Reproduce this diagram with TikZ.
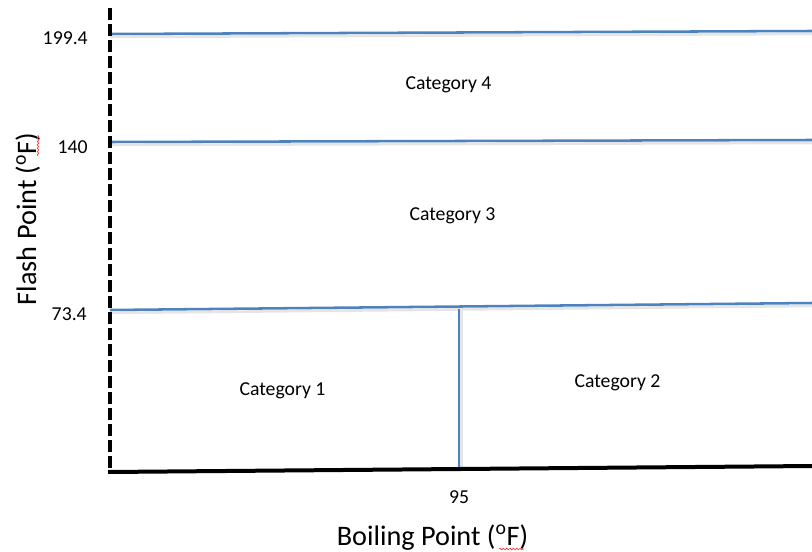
\documentclass[tikz,border=0pt]{standalone}
\usepackage{fontspec}
\setmainfont{Carlito}
\usetikzlibrary{decorations.pathmorphing}
\definecolor{lineblue}{HTML}{4F81BD}
\begin{document}
\begin{tikzpicture}[x=0.75pt,y=-0.75pt,
 bline/.style={lineblue,line width=1.9pt},
 shad/.style={black!10,line width=2pt},
 lbl/.style={font=\fontsize{14.8pt}{16pt}\selectfont,inner sep=0pt,anchor=base},
 ticklbl/.style={font=\fontsize{14.8pt}{16pt}\selectfont,inner sep=0pt,anchor=base east},
 axl/.style={font=\fontsize{21.2pt}{24pt}\selectfont,inner sep=0pt,anchor=base},
 spell/.style={red!80,line width=0.5pt,decorate,decoration={snake,amplitude=0.6pt,segment length=2.5pt}}]
\useasboundingbox (0,0) rectangle (812,552);
% coordinates
\coordinate (l4a) at (110,34);  \coordinate (l4b) at (812,31);
\coordinate (l3a) at (110,142); \coordinate (l3b) at (812,140);
\coordinate (l1a) at (110,310); \coordinate (l1b) at (812,303);
\coordinate (va) at (459,309); \coordinate (vb) at (459,467);
\coordinate (yt) at (110,8); \coordinate (o) at (110,472);
\coordinate (xe) at (812,466); \coordinate (xs) at (108,472);
% shadows
\draw[shad] ([yshift=-2.2pt]l4a) -- ([yshift=-2.2pt]l4b);
\draw[shad] ([yshift=-2.2pt]l3a) -- ([yshift=-2.2pt]l3b);
\draw[shad] ([yshift=-2.2pt]l1a) -- ([yshift=-2.2pt]l1b);
\draw[shad] ([xshift=1.8pt]va) -- ([xshift=1.8pt]vb);
% blue lines
\draw[bline] (l4a) -- (l4b);
\draw[bline] (l3a) -- (l3b);
\draw[bline] (l1a) -- (l1b);
\draw[bline] (va) -- (vb);
% axes
\draw[black,line width=3pt,dash pattern=on 9pt off 3pt] (yt) -- (o);
\draw[black,line width=3pt] (xs) -- (xe);
% tick labels
\node[ticklbl] (t1994) at (88,45) {199.4};
\node[ticklbl] (t140) at (88,154) {140};
\node[ticklbl] (t734) at (87,320) {73.4};
\node[lbl] (t95) at (459,503) {95};
% categories
\node[lbl] (c4) at (448.5,90) {Category 4};
\node[lbl] (c3) at (452.5,220) {Category 3};
\node[lbl] (c1) at (282.5,395) {Category 1};
\node[lbl] (c2) at (617.5,387) {Category 2};
% axis labels
\node[axl] (xl) at (432.5,545) {Boiling Point (\textsuperscript{o}F)};
\node[axl,rotate=90] (yl) at (36,219) {Flash Point (\textsuperscript{o}F)};
% spell-check underlines
\coordinate (s1a) at (499,549); \coordinate (s1b) at (524,549);
\coordinate (s2a) at (38,156); \coordinate (s2b) at (38,135);
\draw[spell] (s1a) -- (s1b);
\draw[spell] (s2a) -- (s2b);
\end{tikzpicture}
\end{document}
